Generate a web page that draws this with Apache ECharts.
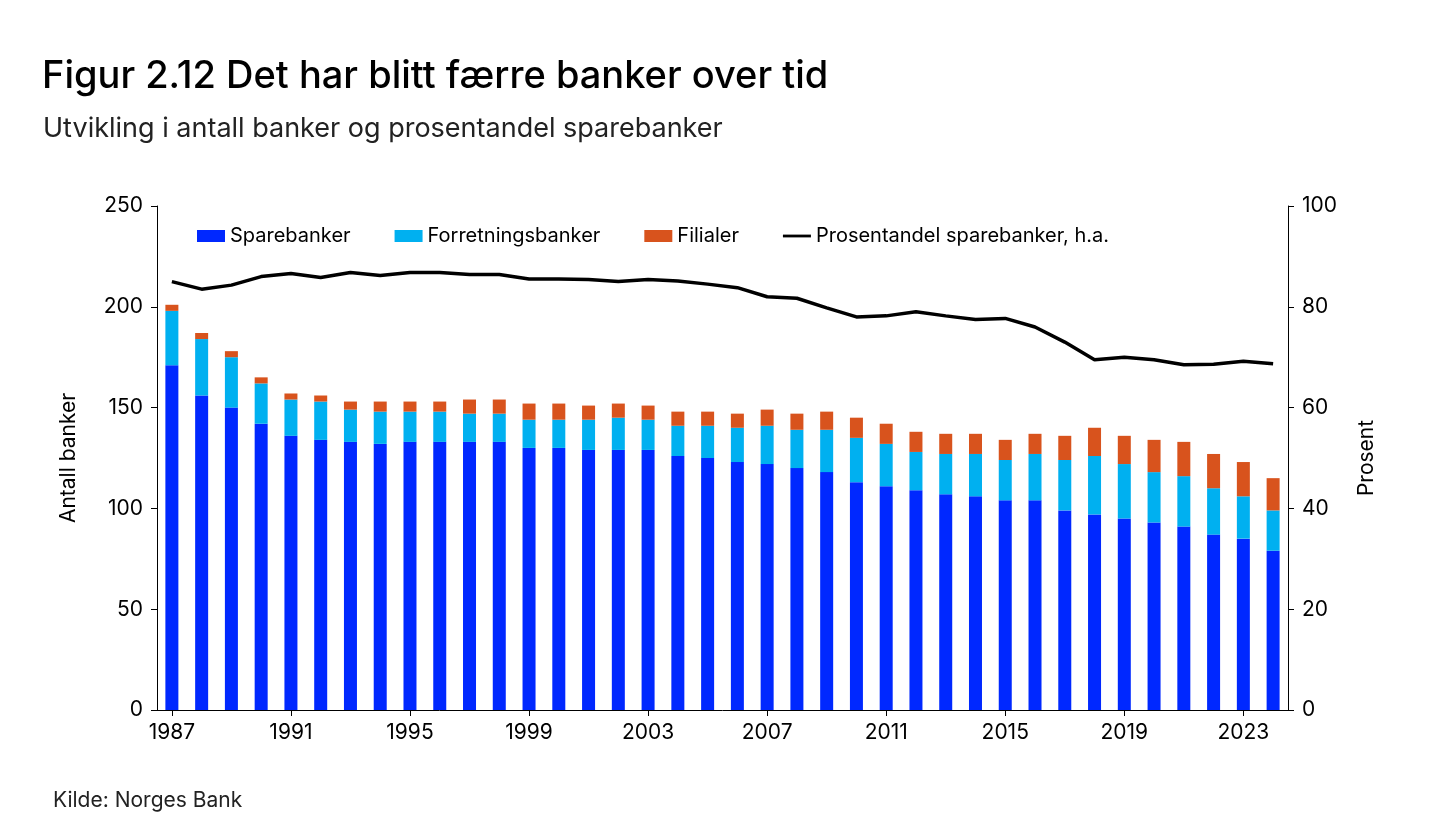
<!DOCTYPE html><html><head><meta charset="utf-8"><script src="https://cdn.jsdelivr.net/npm/echarts@6/dist/echarts.min.js"></script>
<style>body{margin:0}#c{width:1445px;height:827px}</style></head><body><div id="c"></div><script>
const years=[];for(let y=1987;y<=2024;y++)years.push(String(y));
const spare=[171,156,150,142,136,134,133,132,133,133,133,133,130,130,129,129,129,126,125,123,122,120,118,113,111,109,107,106,104,104,99,97,95,93,91,87,85,79];
const cyanTop=[198,184,175,162,154,153,149,148,148,148,147,147,144,144,144,145,144,141,141,140,141,139,139,135,132,128,127,127,124,127,124,126,122,118,116,110,106,99];
const total=[201,187,178,165,157,156,153,153,153,153,154,154,152,152,151,152,151,148,148,147,149,147,148,145,142,138,137,137,134,137,136,140,136,134,133,127,123,115];
const pct=[85,83.5,84.3,86,86.6,85.8,86.8,86.2,86.8,86.8,86.4,86.4,85.5,85.5,85.4,85,85.4,85.1,84.5,83.8,82,81.7,79.8,78,78.2,79,78.2,77.5,77.7,76,73,69.5,70,69.5,68.5,68.6,69.2,68.7];
const forr=cyanTop.map((v,i)=>v-spare[i]);
const fil=total.map((v,i)=>v-cyanTop[i]);
const F='Inter';
const ax={axisLine:{show:true,lineStyle:{color:'#000'}},axisTick:{show:true,length:6,lineStyle:{color:'#000'}},splitLine:{show:false},axisLabel:{fontFamily:F,fontSize:21,color:'#000',margin:14},nameTextStyle:{fontFamily:F,fontSize:21,color:'#000'}};
const c=echarts.init(document.getElementById('c'));
c.setOption({animation:false,
title:[{text:'Figur 2.12 Det har blitt færre banker over tid',left:37,top:53,textStyle:{fontFamily:F,fontSize:38,fontWeight:500,color:'#000'}},
{text:'Utvikling i antall banker og prosentandel sparebanker',left:38,top:110,textStyle:{fontFamily:F,fontSize:27,fontWeight:400,color:'#222'}},
{text:'Kilde: Norges Bank',left:48,top:785,textStyle:{fontFamily:F,fontSize:21,fontWeight:400,color:'#222'}}],
legend:{top:221,left:192,itemGap:44,itemWidth:28,itemHeight:12,textStyle:{fontFamily:F,fontSize:20,color:'#000'},data:[{name:'Sparebanker',icon:'rect'},{name:'Forretningsbanker',icon:'rect'},{name:'Filialer',icon:'rect'},{name:'Prosentandel sparebanker, h.a.',icon:'path://M0,5L30,5L30,8L0,8Z'}]},
grid:{left:157,right:157,top:206,bottom:117},
xAxis:{type:'category',data:years,...ax,axisTick:{show:true,alignWithLabel:true,interval:3,length:6},axisLabel:{...ax.axisLabel,interval:3,margin:12}},
yAxis:[{type:'value',min:0,max:250,interval:50,name:'Antall banker',nameLocation:'middle',nameGap:78,...ax},
{type:'value',min:0,max:100,interval:20,name:'Prosent',nameLocation:'middle',nameGap:68,...ax}],
series:[
{name:'Sparebanker',type:'bar',stack:'a',data:spare,barWidth:13,itemStyle:{color:'#0028ff'}},
{name:'Forretningsbanker',type:'bar',stack:'a',data:forr,itemStyle:{color:'#00b0f0'}},
{name:'Filialer',type:'bar',stack:'a',data:fil,itemStyle:{color:'#d8531d'}},
{name:'Prosentandel sparebanker, h.a.',type:'line',yAxisIndex:1,data:pct,symbol:'none',lineStyle:{color:'#000',width:3.5},itemStyle:{color:'#000'}}]});
</script></body></html>
